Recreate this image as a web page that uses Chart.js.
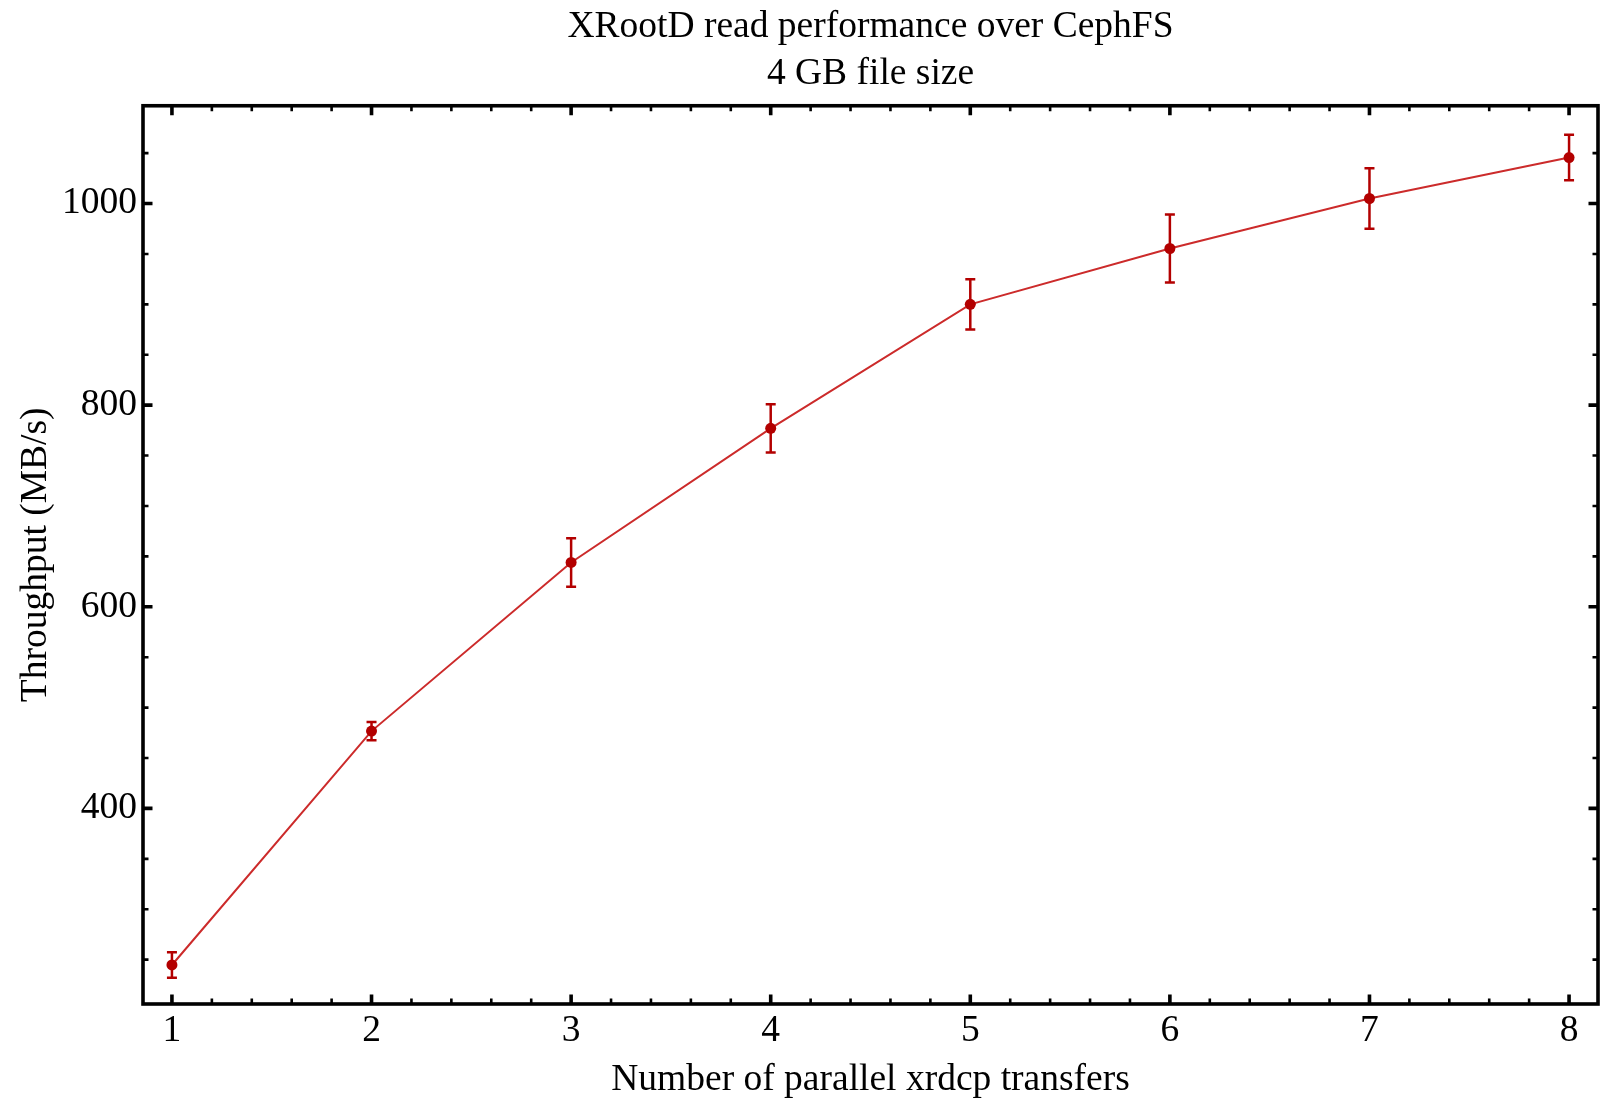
<!doctype html>
<html lang="en">
<head>
<meta charset="utf-8">
<title>XRootD read performance over CephFS</title>
<script src="https://cdn.jsdelivr.net/npm/chart.js@4.4.1/dist/chart.umd.min.js"></script>
<style>
  html, body { margin: 0; padding: 0; background: #fff; }
  canvas { display: block; }
</style>
</head>
<body>
<canvas id="myChart" width="1602" height="1099"></canvas>
<script>
// data
var transfers = [1, 2, 3, 4, 5, 6, 7, 8];
var throughput = [244.7, 476.7, 644, 777, 900, 955.4, 1005, 1045.6];
var throughputErr = [12.6, 9, 24, 24, 25, 33.7, 30, 22.6];

var xTicks = [1, 2, 3, 4, 5, 6, 7, 8];
var yTicks = [400, 600, 800, 1000];
var titleLines = ['XRootD read performance over CephFS', '4 GB file size'];
var xLabel = 'Number of parallel xrdcp transfers';
var yLabel = 'Throughput (MB/s)';

var serif = '"Liberation Serif", "DejaVu Serif", serif';
var dark = '#b30000';
var fsize = 37.5;

// error bars drawn through the scales
var errorBars = {
  id: 'errorBars',
  afterDatasetsDraw: function(chart) {
    var ctx = chart.ctx, xs = chart.scales.x, ys = chart.scales.y;
    ctx.save();
    ctx.strokeStyle = dark;
    ctx.lineWidth = 2.5;
    for (var i = 0; i < transfers.length; i++) {
      var px = xs.getPixelForValue(transfers[i]);
      var top = ys.getPixelForValue(throughput[i] + throughputErr[i]);
      var bot = ys.getPixelForValue(throughput[i] - throughputErr[i]);
      ctx.beginPath();
      ctx.moveTo(px, top); ctx.lineTo(px, bot);
      ctx.moveTo(px - 5, top); ctx.lineTo(px + 5, top);
      ctx.moveTo(px - 5, bot); ctx.lineTo(px + 5, bot);
      ctx.stroke();
    }
    // redraw the points on top
    ctx.fillStyle = dark;
    for (var j = 0; j < transfers.length; j++) {
      ctx.beginPath();
      ctx.arc(xs.getPixelForValue(transfers[j]), ys.getPixelForValue(throughput[j]), 5.5, 0, Math.PI * 2);
      ctx.fill();
    }
    ctx.restore();
  }
};

// mathematica-style frame with ticks on all four sides
var frame = {
  id: 'frame',
  afterDraw: function(chart) {
    var ctx = chart.ctx, a = chart.chartArea, xs = chart.scales.x, ys = chart.scales.y;
    ctx.save();
    ctx.strokeStyle = '#000';

    function xTick(v, len, w) {
      var p = xs.getPixelForValue(v);
      ctx.lineWidth = w;
      ctx.beginPath();
      ctx.moveTo(p, a.bottom); ctx.lineTo(p, a.bottom - len);
      ctx.moveTo(p, a.top); ctx.lineTo(p, a.top + len);
      ctx.stroke();
    }
    function yTick(v, len, w) {
      var p = ys.getPixelForValue(v);
      ctx.lineWidth = w;
      ctx.beginPath();
      ctx.moveTo(a.left, p); ctx.lineTo(a.left + len, p);
      ctx.moveTo(a.right, p); ctx.lineTo(a.right - len, p);
      ctx.stroke();
    }

    for (var k = 0; k < 8 * 5 - 4; k++) {
      var v = 1 + k * 0.2;
      if (k % 5 !== 0) xTick(v, 5.5, 2.6);
    }
    xTicks.forEach(function(v) { xTick(v, 9.5, 3.6); });

    for (var m = 250; m <= 1050; m += 50) {
      if (m % 200 !== 0) yTick(m, 5.5, 2.6);
    }
    yTicks.forEach(function(v) { yTick(v, 9.5, 3.6); });

    ctx.lineWidth = 3.6;
    ctx.strokeRect(a.left, a.top, a.right - a.left, a.bottom - a.top);
    ctx.restore();
  }
};

var points = transfers.map(function(x, i) { return {x: x, y: throughput[i]}; });

var ctx = document.getElementById('myChart').getContext('2d');
new Chart(ctx, {
  type: 'line',
  data: {
    datasets: [{
      data: points,
      borderColor: '#cc2b2b',
      borderWidth: 2,
      pointRadius: 0,
      tension: 0,
      fill: false
    }]
  },
  options: {
    responsive: false,
    animation: false,
    layout: { padding: { left: 0, right: 4, top: 0, bottom: 0 } },
    plugins: {
      legend: { display: false },
      tooltip: { enabled: false },
      title: {
        display: true,
        fullSize: false,
        text: titleLines,
        color: '#000',
        font: { family: serif, size: fsize, weight: 'normal', lineHeight: 1.25 },
        padding: { top: 4, bottom: 8 }
      }
    },
    scales: {
      x: {
        type: 'linear',
        min: 0.855,
        max: 8.145,
        grid: { display: false, drawTicks: false },
        border: { display: false },
        afterBuildTicks: function(s) { s.ticks = xTicks.map(function(v) { return {value: v}; }); },
        afterFit: function(s) { s.height = 95; },
        ticks: {
          color: '#000',
          padding: 5,
          maxRotation: 0,
          callback: function(v) { return String(v); },
          font: { family: serif, size: fsize, lineHeight: 1.2 }
        },
        title: {
          display: true,
          text: xLabel,
          color: '#000',
          padding: { top: 0, bottom: 0 },
          font: { family: serif, size: fsize, lineHeight: 1.0 }
        }
      },
      y: {
        min: 206,
        max: 1097,
        grid: { display: false, drawTicks: false },
        border: { display: false },
        afterBuildTicks: function(s) { s.ticks = yTicks.map(function(v) { return {value: v}; }); },
        afterFit: function(s) { s.width = 143; },
        ticks: {
          color: '#000',
          padding: 6,
          callback: function(v) { return String(v); },
          font: { family: serif, size: fsize, lineHeight: 1.2 }
        },
        title: {
          display: true,
          text: yLabel,
          color: '#000',
          padding: { top: 14, bottom: 0 },
          font: { family: serif, size: fsize, lineHeight: 1.2 }
        }
      }
    }
  },
  plugins: [errorBars, frame]
});
</script>
</body>
</html>
